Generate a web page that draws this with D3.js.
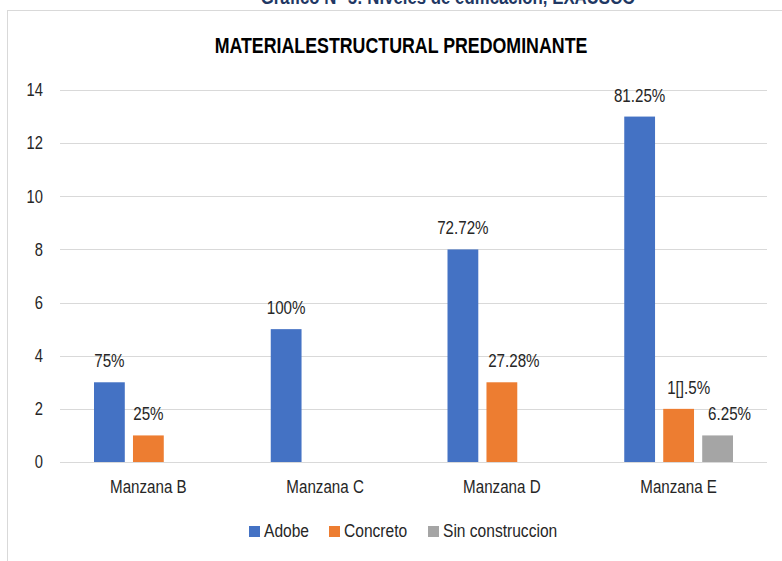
<!DOCTYPE html>
<html><head><meta charset="utf-8">
<script src="https://cdn.jsdelivr.net/npm/d3@7"></script>
<style>
html,body{margin:0;padding:0;background:#fff;}
svg{display:block;}
text{font-family:"Liberation Sans Narrow","Liberation Sans",Arial,sans-serif;fill:#262626;}
</style></head><body>
<svg id="c" width="782" height="561"></svg>
<script>
const categories = ["Manzana B","Manzana C","Manzana D","Manzana E"];
const seriesNames = ["Adobe","Concreto","Sin construccion"];
const adobe = [3,5,8,13];
const concreto = [1,0,3,2];
const sinConstruccion = [0,0,0,1];
const adobeLabels = ["75%","100%","72.72%","81.25%"];
const concretoLabels = ["25%",null,"27.28%","1[].5%"];
const sinLabels = [null,null,null,"6.25%"];
const yTicks = [0,2,4,6,8,10,12,14];
const colors = ["#4472C4","#ED7D31","#A5A5A5"];
const title = "MATERIALESTRUCTURAL PREDOMINANTE";
const topCaption = "Gráfico N° 5: Niveles de edificación, EXAUSCO";

const SX = 0.82; // condensed look
const tr = (x,y)=>`translate(${x},${y}) scale(${SX},1)`;

const svg = d3.select("#c");
svg.append("line").attr("x1",7.5).attr("x2",7.5).attr("y1",10).attr("y2",561).attr("stroke","#d9d9d9");
svg.append("line").attr("x1",7).attr("x2",782).attr("y1",10.5).attr("y2",10.5).attr("stroke","#d9d9d9");
svg.append("text").attr("transform",tr(448,4)).attr("text-anchor","middle")
  .style("font-weight","bold").style("font-size","20.5px")
  .style("fill","#1F3864").text(topCaption);

svg.append("text").attr("transform",tr(401,53)).attr("text-anchor","middle")
  .style("font-weight","bold").style("font-size","21.7px").style("fill","#000").text(title);

const x0 = d3.scaleBand().domain(categories).range([60,767]).paddingInner(0).paddingOuter(0);
const x1 = d3.scaleBand().domain(seriesNames).range([34, x0.bandwidth()-34]).paddingInner(0.21).paddingOuter(0);
const y = d3.scaleLinear().domain([0,14]).range([462,90]);

svg.append("g").selectAll("line").data(yTicks).join("line")
  .attr("x1",60).attr("x2",767).attr("y1",d=>Math.round(y(d))+0.5).attr("y2",d=>Math.round(y(d))+0.5)
  .attr("stroke","#d9d9d9").attr("stroke-width",1);
svg.append("g").selectAll("text").data(yTicks).join("text")
  .attr("transform",d=>tr(43,y(d))).attr("dy","0.35em").attr("text-anchor","end")
  .style("font-size","18px").text(d=>d);

const series = [adobe, concreto, sinConstruccion];
const labels = [adobeLabels, concretoLabels, sinLabels];
const labelDx = [[0,0,0,0],[0,0,12,10],[0,0,0,12]];
series.forEach((vals,si)=>{
  const g = svg.append("g");
  g.selectAll("rect").data(vals.map((v,i)=>({v,i})).filter(d=>d.v>0)).join("rect")
    .attr("x",d=>x0(categories[d.i])+x1(seriesNames[si]))
    .attr("width",x1.bandwidth())
    .attr("y",d=>y(d.v)).attr("height",d=>y(0)-y(d.v))
    .attr("fill",colors[si]);
  g.selectAll("text").data(vals.map((v,i)=>({v,i,l:labels[si][i]})).filter(d=>d.l)).join("text")
    .attr("transform",d=>tr(x0(categories[d.i])+x1(seriesNames[si])+x1.bandwidth()/2+labelDx[si][d.i], y(d.v)-15))
    .attr("text-anchor","middle")
    .style("font-size","18.5px").text(d=>d.l);
});

svg.append("g").selectAll("text").data(categories).join("text")
  .attr("transform",d=>tr(x0(d)+x0.bandwidth()/2,493)).attr("text-anchor","middle")
  .style("font-size","18.5px").text(d=>d);

const legX = [249,329,428];
const lg = svg.append("g").selectAll("g").data(seriesNames).join("g")
  .attr("transform",(d,i)=>`translate(${legX[i]},0)`);
lg.append("rect").attr("x",0).attr("y",526).attr("width",11).attr("height",11).attr("fill",(d,i)=>colors[i]);
lg.append("text").attr("transform",tr(15,537)).style("font-size","19px").text(d=>d);
</script>
</body></html>
